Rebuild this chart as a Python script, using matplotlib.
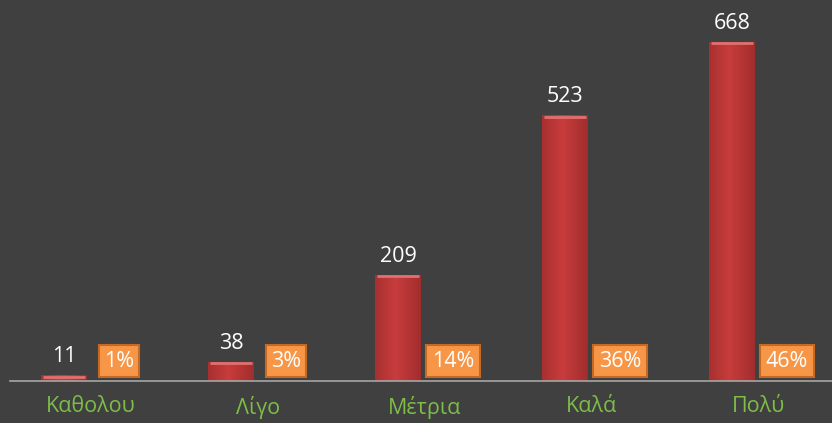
import matplotlib
matplotlib.use("Agg")
import matplotlib.pyplot as plt
import numpy as np
from matplotlib.colors import LinearSegmentedColormap

categories = ["Καθολου", "Λίγο", "Μέτρια", "Καλά", "Πολύ"]
counts = [11, 38, 209, 523, 668]
percents = ["1%", "3%", "14%", "36%", "46%"]

BG = "#404040"
GREEN = "#7dbd48"

plt.rcParams['font.family'] = ['Open Sans', 'DejaVu Sans']

fig = plt.figure(figsize=(8.32, 4.23), dpi=100, facecolor=BG)
ax = fig.add_axes([10 / 832, 42 / 423, 822 / 832, 381 / 423])
ax.set_facecolor(BG)

x = np.arange(len(categories))
offset = 0.16
width = 0.27

bars = ax.bar(x - offset, counts, width, color="#c0393a", edgecolor="#5e1a1a",
              linewidth=0.6, zorder=2)

# soft horizontal shading on each bar
grad = np.linspace(0, 1, 64)
grad = 1 - np.abs(grad - 0.45) * 1.2
grad = grad.reshape(1, -1)
cmap = LinearSegmentedColormap.from_list("bar", ["#8e2626", "#c83c3c"])
for b in bars:
    x0, w, h = b.get_x(), b.get_width(), b.get_height()
    im = ax.imshow(grad, cmap=cmap, aspect="auto", extent=(x0, x0 + w, 0, h),
                   zorder=3, vmin=0, vmax=1)
    im.set_clip_path(b)
    # light top bevel
    ax.plot([x0 + 0.008, x0 + w - 0.008], [h - 2.5, h - 2.5], color="#e07070",
            linewidth=2, zorder=4, solid_capstyle="butt")

for i, (c, p) in enumerate(zip(counts, percents)):
    ax.annotate(str(c), (i - offset, c), xytext=(0, 13), textcoords="offset pixels",
                ha="center", va="baseline", color="white", fontsize=15.5)
    ax.annotate(p, (i + 0.17, 0), xytext=(0, 20), textcoords="offset pixels",
                ha="center", va="center", color="white", fontsize=15.5,
                bbox=dict(boxstyle="square,pad=0.25", facecolor="#f79646",
                          edgecolor="#c46a24", linewidth=1.5), zorder=5)

ax.set_xlim(-0.483, -0.483 + 822 / 167)
ax.set_ylim(0, 750)
ax.set_xticks(x)
ax.set_xticklabels(categories, color=GREEN, fontsize=15.5)
ax.tick_params(axis="x", length=0, pad=11)
ax.set_yticks([])
for s in ["top", "right", "left"]:
    ax.spines[s].set_visible(False)
ax.spines["bottom"].set_color("#a6a6a6")
ax.spines["bottom"].set_linewidth(1.2)
ax.spines["bottom"].set_zorder(6)

fig.savefig("out.png", dpi=100, facecolor=BG)
